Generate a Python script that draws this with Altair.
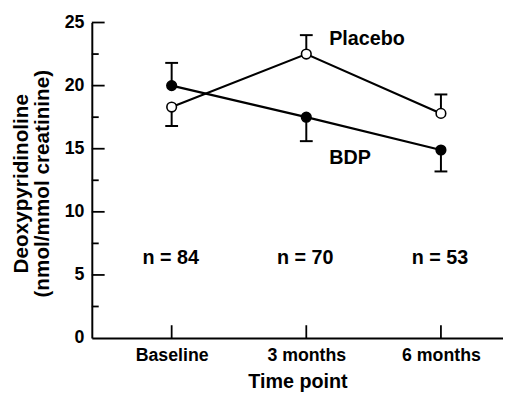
import altair as alt
import pandas as pd

# ---- data ----
time_points = ["Baseline", "3 months", "6 months"]
time_index = [0, 1, 2]
bdp_mean = [20.0, 17.5, 14.9]
bdp_bar_end = [21.8, 15.6, 13.2]
placebo_mean = [18.3, 22.5, 17.8]
placebo_bar_end = [16.8, 24.0, 19.3]
n_labels = ["n = 84", "n = 70", "n = 53"]
n_label_y = [5.9, 5.9, 5.9]
series_labels = ["Placebo", "BDP"]
series_label_x = [1.17, 1.17]
series_label_y = [23.2, 13.8]
y_major_ticks = [5, 10, 15, 20, 25]
y_minor_ticks = [2.5, 7.5, 12.5, 17.5, 22.5]
y_tick_labels = [0, 5, 10, 15, 20, 25]

FONT = "Liberation Sans"

rows = []
for i, t in enumerate(time_points):
    rows.append({"idx": time_index[i], "time": t, "group": "BDP",
                 "mean": bdp_mean[i], "end": bdp_bar_end[i]})
    rows.append({"idx": time_index[i], "time": t, "group": "Placebo",
                 "mean": placebo_mean[i], "end": placebo_bar_end[i]})
df = pd.DataFrame(rows)

label_expr = "datum.value == 0 ? 'Baseline' : datum.value == 1 ? '3 months' : '6 months'"

xscale = alt.Scale(domain=[-0.593, 2.461], nice=False, zero=False)
yscale = alt.Scale(domain=[0, 25], nice=False, zero=True)

x_enc = alt.X("idx:Q", scale=xscale,
              axis=alt.Axis(values=time_index, labelExpr=label_expr, title="Time point",
                            ticks=False, grid=False, domainColor="black", domainWidth=2,
                            labelFont=FONT, labelFontSize=18, labelFontWeight="bold",
                            labelColor="black", labelPadding=9, labelBaseline="top",
                            titleFont=FONT, titleFontSize=20, titleFontWeight="bold",
                            titleColor="black", titleBaseline="alphabetic", titleY=50))
y_enc = alt.Y("mean:Q", scale=yscale,
              axis=alt.Axis(values=y_tick_labels, ticks=False, grid=False,
                            domainColor="black", domainWidth=2,
                            title=["Deoxypyridinoline", "(nmol/mmol creatinine)"],
                            labelFont=FONT, labelFontSize=18, labelFontWeight="bold",
                            labelColor="black", labelPadding=8,
                            titleFont=FONT, titleFontSize=21, titleFontWeight="bold",
                            titleColor="black", titleAngle=270, titleBaseline="top",
                            titleAlign="center", titleX=-82, titleY=163, titleLineHeight=21))

base = alt.Chart(df)

lines = base.mark_line(color="black", strokeWidth=2.2).encode(
    x=x_enc, y=y_enc, detail="group:N", order="idx:Q")

err = base.mark_rule(color="black", strokeWidth=2).encode(
    x=alt.X("idx:Q", scale=xscale), y=alt.Y("mean:Q", scale=yscale), y2="end:Q")

caps = base.mark_tick(color="black", orient="horizontal", size=13, thickness=2, opacity=1).encode(
    x=alt.X("idx:Q", scale=xscale), y=alt.Y("end:Q", scale=yscale))

points = base.mark_point(filled=True, size=95, stroke="black", strokeWidth=1.6, opacity=1).encode(
    x=alt.X("idx:Q", scale=xscale), y=alt.Y("mean:Q", scale=yscale),
    fill=alt.Fill("group:N", scale=alt.Scale(domain=["BDP", "Placebo"], range=["black", "white"]),
                  legend=None))

# inward axis ticks
ymaj = alt.Chart(pd.DataFrame({"v": y_major_ticks})).mark_rule(color="black", strokeWidth=1.8).encode(
    y=alt.Y("v:Q", scale=yscale), x=alt.value(0), x2=alt.value(13))
ymin = alt.Chart(pd.DataFrame({"v": y_minor_ticks})).mark_rule(color="black", strokeWidth=1.8).encode(
    y=alt.Y("v:Q", scale=yscale), x=alt.value(0), x2=alt.value(7))
xt = alt.Chart(pd.DataFrame({"v": time_index})).mark_rule(color="black", strokeWidth=1.8).encode(
    x=alt.X("v:Q", scale=xscale), y=alt.value(320), y2=alt.value(307))

n_df = pd.DataFrame({"idx": time_index, "y": n_label_y, "label": n_labels})
ntext = alt.Chart(n_df).mark_text(font=FONT, fontSize=20, fontWeight="bold", color="black",
                                  align="center", baseline="alphabetic", dx=-1).encode(
    x=alt.X("idx:Q", scale=xscale), y=alt.Y("y:Q", scale=yscale), text="label:N")

s_df = pd.DataFrame({"x": series_label_x, "y": series_label_y, "label": series_labels})
stext = alt.Chart(s_df).mark_text(font=FONT, fontSize=20, fontWeight="bold", color="black",
                                  align="left", baseline="alphabetic").encode(
    x=alt.X("x:Q", scale=xscale), y=alt.Y("y:Q", scale=yscale), text="label:N")

chart = alt.layer(lines, err, caps, points, ymaj, ymin, xt, ntext, stext).properties(
    width=417, height=320,
    autosize=alt.AutoSizeParams(type="none"),
    padding={"left": 85, "top": 12, "right": 0, "bottom": 52},
    background="white",
).configure_view(stroke=None)

chart.save("out.html", embed_options={"renderer": "svg", "actions": False})
